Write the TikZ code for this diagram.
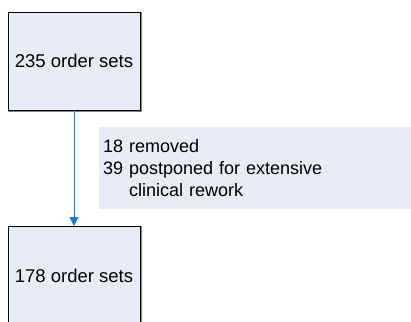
\documentclass[tikz,border=0pt]{standalone}
\usepackage{fontspec}
\setmainfont{Liberation Sans}
\usetikzlibrary{arrows.meta}
\definecolor{boxfill}{HTML}{E7ECF7}
\definecolor{flowblue}{HTML}{2279CC}
\tikzset{
    setbox/.style={draw=black, line width=0.8pt, fill=boxfill,
        minimum width=132pt, minimum height=98pt, inner sep=0pt,
        font=\fontsize{18.5}{22}\selectfont},
    notebox/.style={fill=boxfill, minimum width=312pt, minimum height=82pt,
        text width=304pt, inner xsep=4pt, align=left,
        font=\fontsize{18}{21.6}\selectfont},
    flow/.style={draw=flowblue, line width=1pt, -{Triangle[length=9pt,width=9pt]}}
}
\begin{document}
\begin{tikzpicture}[x=1pt, y=1pt]
    \useasboundingbox (0,0) rectangle (411,321);
    \clip (0,0) rectangle (411,321);

    % boxes
    \node[setbox] (before) at (74,260) {235 order sets};
    \node[setbox, anchor=north] (after) at (74,95) {178 order sets};
    % shadow right and bottom
    \draw[gray, line width=1.5pt] ([xshift=1pt]before.north east) -- ([xshift=1pt,yshift=-1pt]before.south east) -- ([yshift=-1pt]before.south west);
    \draw[gray, line width=1.5pt] ([xshift=1pt]after.north east) -- ([xshift=1pt]after.south east);

    % note
    \node[notebox] (note) at (255,153)
        {18 removed\\39 postponed for extensive\\\hphantom{39\ }clinical rework};

    % arrow
    \draw[flow] (before.south) -- (after.north);
\end{tikzpicture}
\end{document}
